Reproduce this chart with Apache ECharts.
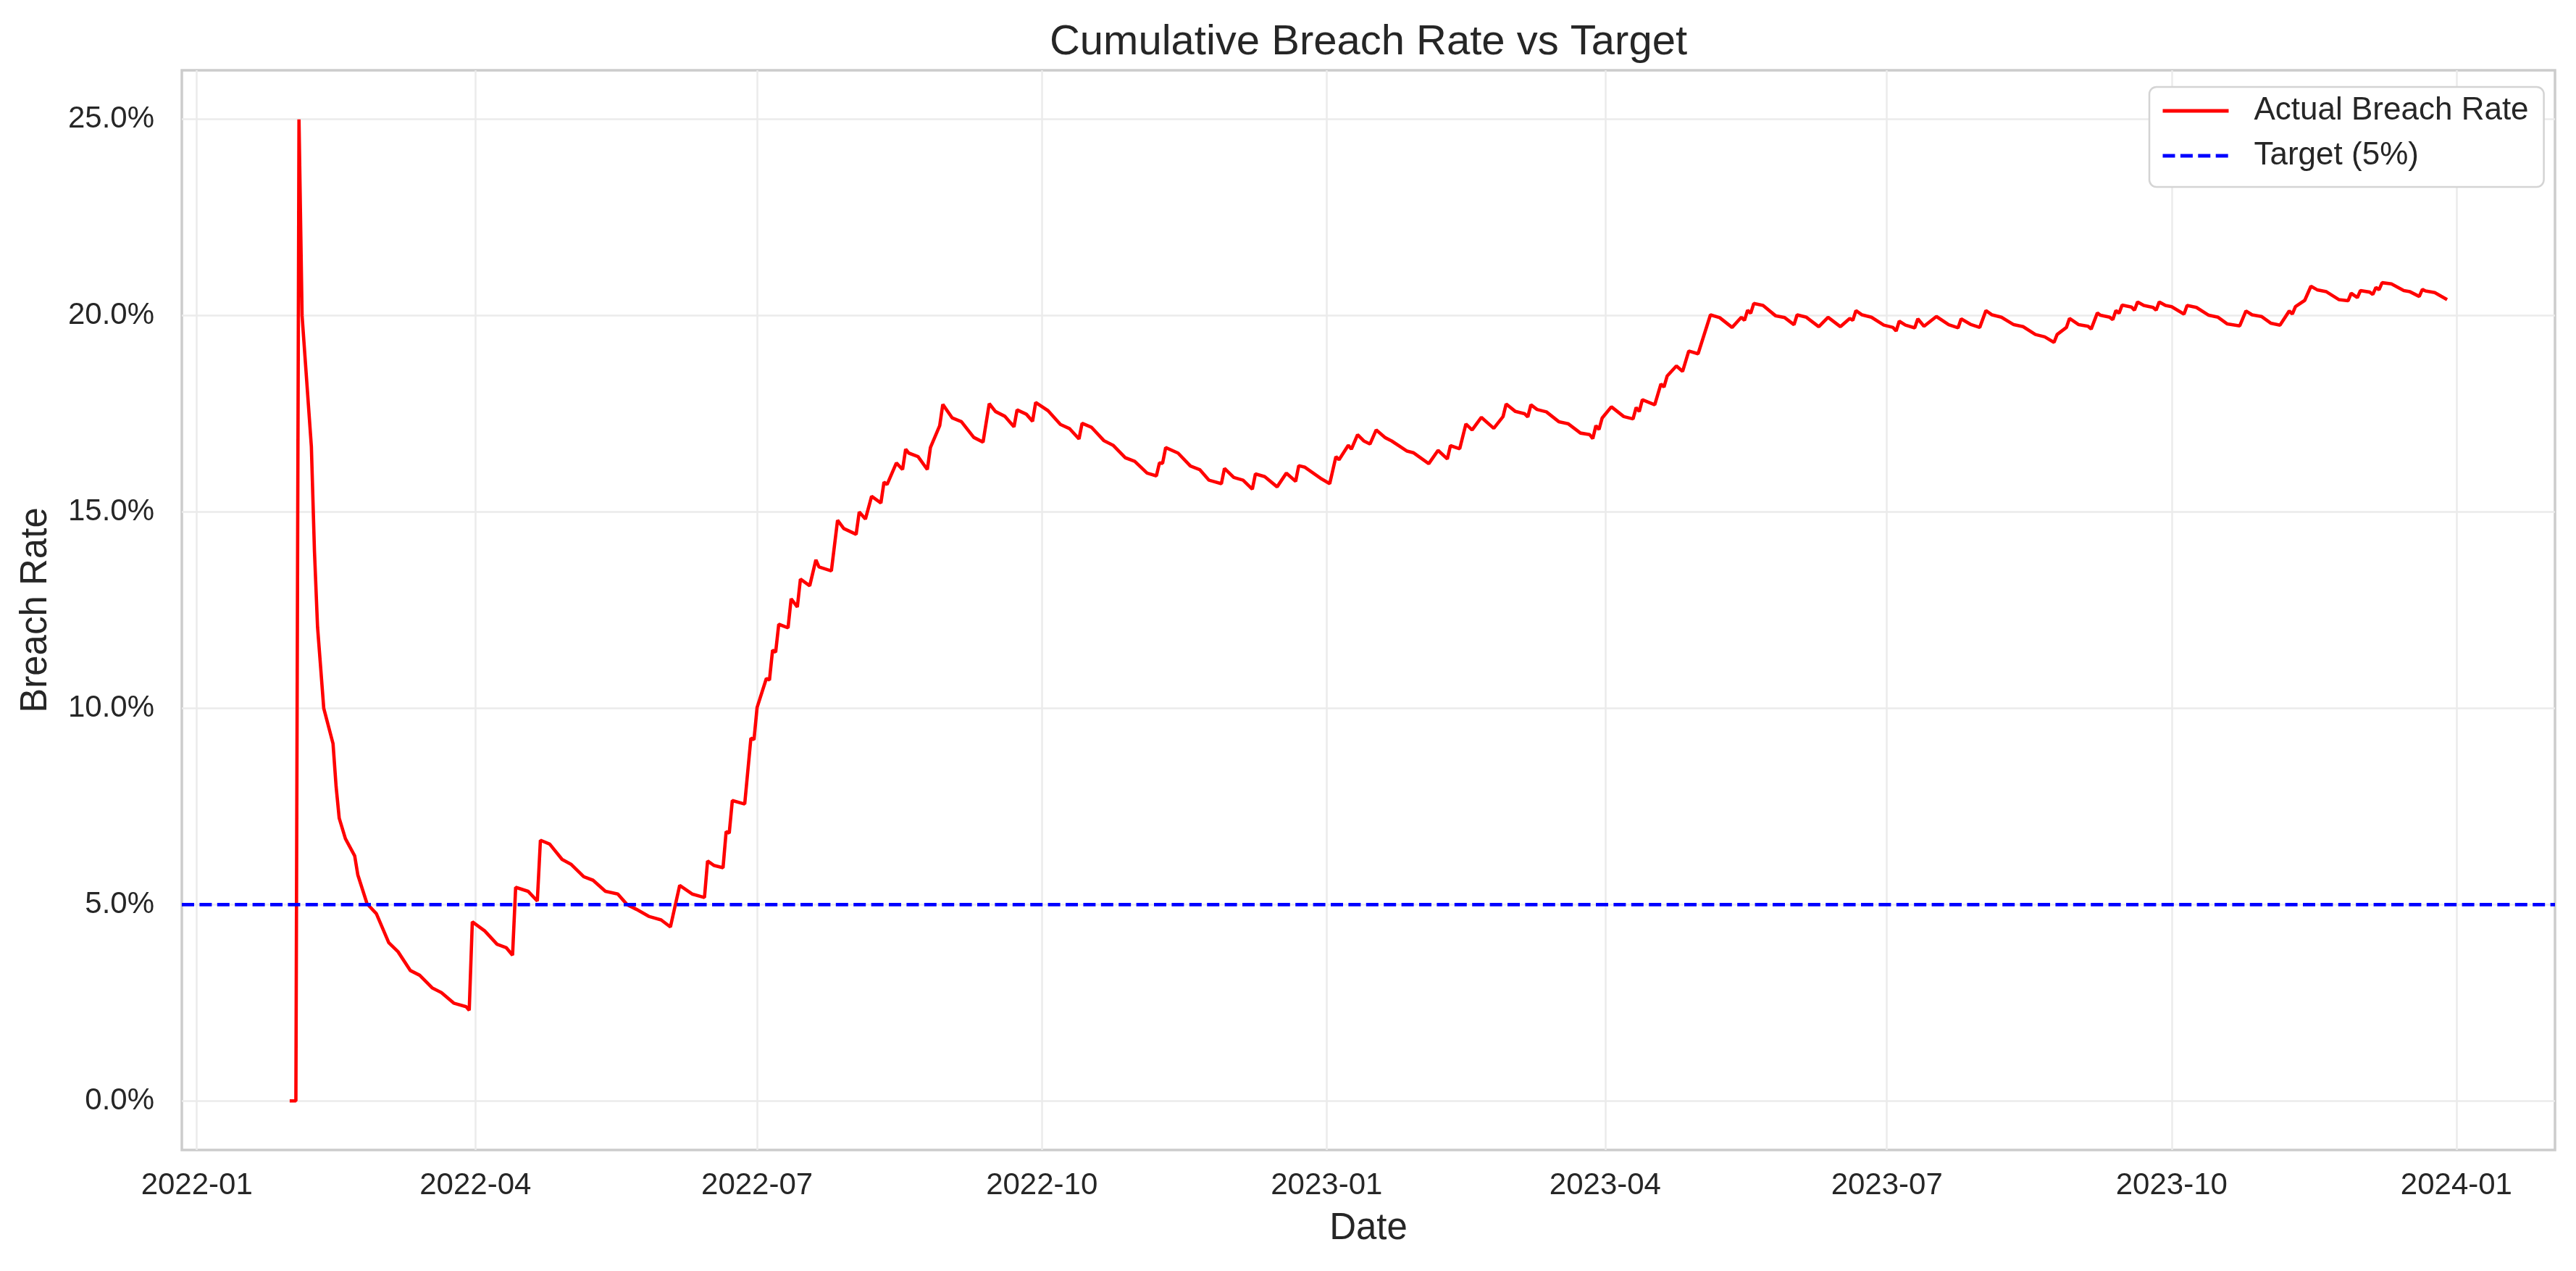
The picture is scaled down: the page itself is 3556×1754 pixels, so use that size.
<!DOCTYPE html>
<html>
<head>
<meta charset="utf-8">
<title>Cumulative Breach Rate vs Target</title>
<script src="https://cdn.jsdelivr.net/npm/echarts@6/dist/echarts.min.js"></script>
<style>
  html, body { margin: 0; padding: 0; background: #ffffff; }
  #chart { width: 3556px; height: 1754px; }
</style>
</head>
<body>
<div id="chart"></div>
<script>
// cumulative breach rate (%), one entry per date
var dates = [
  '2022-01-31','2022-02-02','2022-02-03','2022-02-04','2022-02-07','2022-02-08','2022-02-09','2022-02-10','2022-02-11','2022-02-14',
  '2022-02-15','2022-02-16','2022-02-18','2022-02-21','2022-02-22','2022-02-25','2022-02-28','2022-03-04','2022-03-07','2022-03-11',
  '2022-03-14','2022-03-18','2022-03-21','2022-03-25','2022-03-29','2022-03-30','2022-03-31','2022-04-04','2022-04-08','2022-04-11',
  '2022-04-13','2022-04-14','2022-04-18','2022-04-21','2022-04-22','2022-04-25','2022-04-29','2022-05-02','2022-05-06','2022-05-09',
  '2022-05-13','2022-05-17','2022-05-20','2022-05-23','2022-05-27','2022-05-31','2022-06-03','2022-06-06','2022-06-10','2022-06-14',
  '2022-06-15','2022-06-17','2022-06-20','2022-06-21','2022-06-22','2022-06-23','2022-06-27','2022-06-29','2022-06-30','2022-07-01',
  '2022-07-04','2022-07-05','2022-07-06','2022-07-07','2022-07-08','2022-07-11','2022-07-12','2022-07-14','2022-07-15','2022-07-18',
  '2022-07-20','2022-07-21','2022-07-25','2022-07-27','2022-07-29','2022-08-02','2022-08-03','2022-08-05','2022-08-07','2022-08-10',
  '2022-08-11','2022-08-12','2022-08-15','2022-08-17','2022-08-18','2022-08-19','2022-08-22','2022-08-25','2022-08-26','2022-08-29',
  '2022-08-30','2022-09-02','2022-09-05','2022-09-09','2022-09-12','2022-09-14','2022-09-16','2022-09-19','2022-09-22','2022-09-23',
  '2022-09-26','2022-09-28','2022-09-29','2022-10-03','2022-10-07','2022-10-10','2022-10-13','2022-10-14','2022-10-17','2022-10-21',
  '2022-10-24','2022-10-28','2022-10-31','2022-11-04','2022-11-07','2022-11-08','2022-11-09','2022-11-10','2022-11-14','2022-11-18',
  '2022-11-21','2022-11-24','2022-11-28','2022-11-29','2022-12-02','2022-12-05','2022-12-08','2022-12-09','2022-12-12','2022-12-16',
  '2022-12-19','2022-12-22','2022-12-23','2022-12-25','2022-12-30','2023-01-02','2023-01-04','2023-01-05','2023-01-08','2023-01-09',
  '2023-01-11','2023-01-13','2023-01-15','2023-01-17','2023-01-20','2023-01-22','2023-01-27','2023-01-29','2023-02-03','2023-02-06',
  '2023-02-09','2023-02-10','2023-02-13','2023-02-15','2023-02-17','2023-02-20','2023-02-24','2023-02-27','2023-02-28','2023-03-03',
  '2023-03-06','2023-03-07','2023-03-08','2023-03-10','2023-03-13','2023-03-17','2023-03-20','2023-03-24','2023-03-27','2023-03-28',
  '2023-03-29','2023-03-30','2023-03-31','2023-04-03','2023-04-07','2023-04-10','2023-04-11','2023-04-12','2023-04-13','2023-04-17',
  '2023-04-19','2023-04-20','2023-04-21','2023-04-24','2023-04-26','2023-04-28','2023-05-01','2023-05-05','2023-05-08','2023-05-12',
  '2023-05-15','2023-05-16','2023-05-17','2023-05-18','2023-05-19','2023-05-22','2023-05-26','2023-05-29','2023-06-01','2023-06-02',
  '2023-06-05','2023-06-09','2023-06-12','2023-06-16','2023-06-19','2023-06-20','2023-06-21','2023-06-23','2023-06-26','2023-06-30',
  '2023-07-03','2023-07-04','2023-07-05','2023-07-07','2023-07-10','2023-07-11','2023-07-13','2023-07-17','2023-07-21','2023-07-24',
  '2023-07-25','2023-07-28','2023-07-31','2023-08-02','2023-08-04','2023-08-07','2023-08-11','2023-08-14','2023-08-18','2023-08-21',
  '2023-08-24','2023-08-25','2023-08-28','2023-08-29','2023-09-01','2023-09-04','2023-09-05','2023-09-07','2023-09-08','2023-09-11',
  '2023-09-12','2023-09-13','2023-09-14','2023-09-15','2023-09-18','2023-09-19','2023-09-20','2023-09-22','2023-09-25','2023-09-26',
  '2023-09-27','2023-09-29','2023-10-01','2023-10-05','2023-10-06','2023-10-09','2023-10-13','2023-10-16','2023-10-19','2023-10-23',
  '2023-10-25','2023-10-27','2023-10-30','2023-11-02','2023-11-05','2023-11-08','2023-11-09','2023-11-10','2023-11-13','2023-11-15',
  '2023-11-17','2023-11-20','2023-11-24','2023-11-27','2023-11-28','2023-11-30','2023-12-01','2023-12-04','2023-12-05','2023-12-06',
  '2023-12-07','2023-12-08','2023-12-11','2023-12-15','2023-12-17','2023-12-20','2023-12-21','2023-12-22','2023-12-25','2023-12-29'
];
var breachRate = [
  0, 0, 25, 20, 16.67, 14.0, 12.07, 11.04, 10.0, 9.1,
  8.0, 7.2, 6.68, 6.24, 5.76, 5.02, 4.77, 4.03, 3.80, 3.32,
  3.20, 2.88, 2.76, 2.49, 2.40, 2.31, 4.56, 4.33, 3.99, 3.90,
  3.71, 5.44, 5.34, 5.09, 6.64, 6.54, 6.15, 6.02, 5.71, 5.62,
  5.34, 5.27, 5.00, 4.88, 4.70, 4.61, 4.43, 5.49, 5.27, 5.18,
  6.11, 6.00, 5.94, 6.86, 6.82, 7.65, 7.56, 9.24, 9.20, 10.02,
  10.76, 10.72, 11.48, 11.43, 12.14, 12.05, 12.79, 12.58, 13.29, 13.12,
  13.78, 13.60, 13.50, 14.79, 14.58, 14.43, 15.00, 14.82, 15.40, 15.23,
  15.76, 15.70, 16.25, 16.08, 16.60, 16.50, 16.41, 16.08, 16.64, 17.20,
  17.74, 17.40, 17.30, 16.90, 16.78, 17.76, 17.56, 17.44, 17.17, 17.60,
  17.49, 17.31, 17.79, 17.58, 17.23, 17.12, 16.86, 17.26, 17.16, 16.82,
  16.70, 16.38, 16.29, 15.99, 15.92, 16.25, 16.24, 16.64, 16.50, 16.17,
  16.08, 15.81, 15.72, 16.11, 15.88, 15.81, 15.58, 15.97, 15.90, 15.64,
  15.99, 15.78, 16.18, 16.14, 15.86, 15.72, 16.41, 16.33, 16.70, 16.60,
  16.97, 16.81, 16.73, 17.09, 16.89, 16.81, 16.55, 16.51, 16.23, 16.57,
  16.35, 16.69, 16.61, 17.24, 17.09, 17.41, 17.13, 17.43, 17.75, 17.56,
  17.50, 17.42, 17.73, 17.61, 17.55, 17.30, 17.25, 17.01, 16.97, 16.87,
  17.20, 17.10, 17.39, 17.68, 17.43, 17.37, 17.66, 17.56, 17.86, 17.73,
  18.26, 18.18, 18.46, 18.72, 18.58, 19.10, 19.03, 20.02, 19.95, 19.70,
  19.96, 19.88, 20.14, 20.06, 20.31, 20.26, 20.00, 19.95, 19.77, 20.02,
  19.96, 19.72, 19.96, 19.72, 19.93, 19.88, 20.13, 20.02, 19.96, 19.76,
  19.70, 19.61, 19.86, 19.76, 19.69, 19.92, 19.73, 19.98, 19.77, 19.69,
  19.92, 19.78, 19.70, 20.13, 20.02, 19.96, 19.77, 19.72, 19.52, 19.46,
  19.32, 19.52, 19.70, 19.93, 19.77, 19.73, 19.66, 20.07, 20.01, 19.96,
  19.90, 20.13, 20.06, 20.27, 20.22, 20.14, 20.35, 20.26, 20.21, 20.14,
  20.35, 20.26, 20.23, 20.04, 20.26, 20.21, 20.01, 19.96, 19.79, 19.74,
  20.12, 20.02, 19.98, 19.81, 19.76, 20.12, 20.04, 20.23, 20.39, 20.75,
  20.66, 20.61, 20.41, 20.38, 20.57, 20.46, 20.64, 20.60, 20.54, 20.72,
  20.66, 20.84, 20.81, 20.64, 20.61, 20.49, 20.67, 20.63, 20.59, 20.41
];
var targetRate = 5;
var yTicks = [0, 5, 10, 15, 20, 25];
var xTicks = ['2022-01', '2022-04', '2022-07', '2022-10', '2023-01', '2023-04', '2023-07', '2023-10', '2024-01'];

var titleText = 'Cumulative Breach Rate vs Target';
var font = '"Liberation Sans", Arial, Helvetica, sans-serif';
var ink = '#262626';

function toTime(s) {
    var p = s.split('-');
    return new Date(+p[0], +p[1] - 1, p[2] ? +p[2] : 1).getTime();
}
function pad2(n) { return n < 10 ? '0' + n : '' + n; }

// matplotlib style 5% margins on both axes
var t0 = toTime(dates[0]), t1 = toTime(dates[dates.length - 1]);
var xMin = t0 - (t1 - t0) * 0.05;
var xMax = t1 + (t1 - t0) * 0.05;
var yLo = Math.min.apply(null, breachRate), yHi = Math.max.apply(null, breachRate);
var yMin = yLo - (yHi - yLo) * 0.05;
var yMax = yHi + (yHi - yLo) * 0.05;

var xTickVals = xTicks.map(toTime);
var rateData = dates.map(function (d, i) { return [toTime(d), breachRate[i]]; });

// grid box (pixels) and title centred over it
var gridLeft = 251, gridRight = 29;
var plotCenter = gridLeft + (3556 - gridLeft - gridRight) / 2;
var ctx = document.createElement('canvas').getContext('2d');
ctx.font = '58px ' + font;
var titleW = ctx.measureText(titleText).width;

var option = {
    backgroundColor: '#ffffff',
    animation: false,
    title: {
        text: titleText,
        left: plotCenter - titleW / 2,
        top: 30,
        padding: 0,
        textStyle: { fontFamily: font, fontSize: 58, fontWeight: 'normal', color: ink }
    },
    legend: {
        data: ['Actual Breach Rate', 'Target (5%)'],
        orient: 'vertical',
        left: 2967,
        top: 120,
        padding: [8, 21, 18, 16],
        itemWidth: 91,
        itemHeight: 20,
        itemGap: 12,
        backgroundColor: '#ffffff',
        borderColor: '#d4d4d4',
        borderWidth: 2.5,
        borderRadius: 10,
        selectedMode: false,
        itemStyle: { opacity: 0 },
        lineStyle: { width: 5 },
        textStyle: { fontFamily: font, fontSize: 44, color: ink, lineHeight: 50, padding: [0, 0, 0, 30] }
    },
    grid: {
        left: gridLeft,
        right: gridRight,
        top: 97,
        bottom: 167,
        show: true,
        borderColor: '#cccccc',
        borderWidth: 3.5,
        backgroundColor: 'transparent'
    },
    // dates are plotted as timestamps on a value axis so the tick months can be fixed
    xAxis: {
        type: 'value',
        min: xMin,
        max: xMax,
        name: 'Date',
        nameLocation: 'middle',
        nameGap: 83,
        nameTextStyle: { fontFamily: font, fontSize: 51, color: ink },
        axisLine: { show: false },
        axisTick: { show: false, customValues: xTickVals },
        axisLabel: {
            customValues: xTickVals,
            margin: 28,
            fontFamily: font,
            fontSize: 42,
            color: ink,
            formatter: function (v) {
                var d = new Date(v);
                return d.getFullYear() + '-' + pad2(d.getMonth() + 1);
            }
        },
        splitLine: { show: true, lineStyle: { color: '#ebebeb', width: 2.5 } }
    },
    yAxis: {
        type: 'value',
        min: yMin,
        max: yMax,
        name: 'Breach Rate',
        nameLocation: 'middle',
        nameGap: 176,
        nameRotate: 90,
        nameTextStyle: { fontFamily: font, fontSize: 51, color: ink },
        axisLine: { show: false },
        axisTick: { show: false, customValues: yTicks },
        axisLabel: {
            customValues: yTicks,
            margin: 38,
            fontFamily: font,
            fontSize: 42,
            color: ink,
            formatter: function (v) { return v.toFixed(1) + '%'; }
        },
        splitLine: { show: true, lineStyle: { color: '#ebebeb', width: 2.5 } }
    },
    series: [
        {
            name: 'Actual Breach Rate',
            type: 'line',
            data: rateData,
            symbol: 'none',
            itemStyle: { color: '#ff0000' },
            lineStyle: { color: '#ff0000', width: 4.6 },
            z: 3
        },
        {
            name: 'Target (5%)',
            type: 'line',
            data: [[xMin, targetRate], [xMax, targetRate]],
            symbol: 'none',
            itemStyle: { color: '#0000ff' },
            lineStyle: { color: '#0000ff', width: 4.6, type: [17, 7.4] },
            z: 4
        }
    ]
};

var chart = echarts.init(document.getElementById('chart'));
chart.setOption(option);
</script>
</body>
</html>
